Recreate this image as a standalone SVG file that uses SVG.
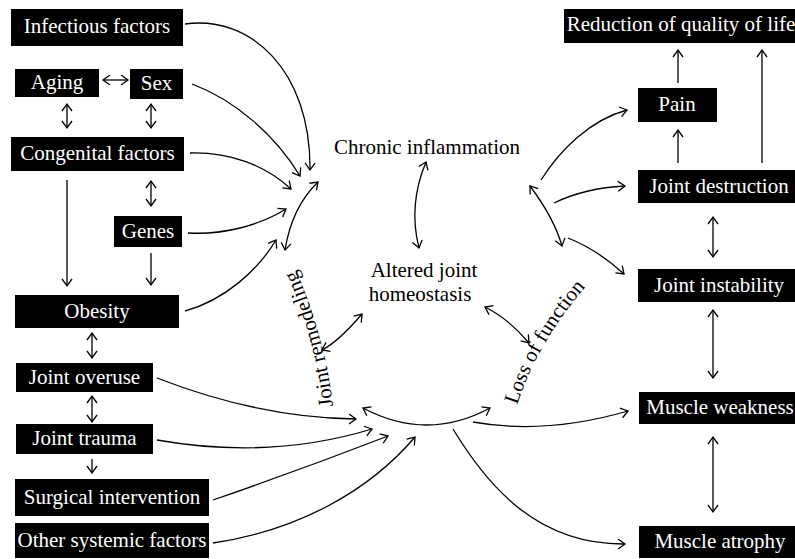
<svg xmlns="http://www.w3.org/2000/svg" width="795" height="559" viewBox="0 0 795 559">
<style>
.box{fill:#000}
.bt{fill:#fff;font-family:"Liberation Serif","Times New Roman",serif;font-size:21px;text-anchor:middle}
.ct{fill:#000;font-family:"Liberation Serif","Times New Roman",serif;font-size:21px;text-anchor:middle}
.lbl{fill:#000;font-family:"Liberation Serif","Times New Roman",serif;font-size:21px}
.c{fill:none;stroke:#000;stroke-width:1.3}
.e{marker-end:url(#ah)}
.b{marker-start:url(#ah);marker-end:url(#ah)}
</style>
<defs>
<marker id="ah" viewBox="-10 -7 12 14" refX="0" refY="0" markerWidth="12" markerHeight="14" markerUnits="userSpaceOnUse" orient="auto-start-reverse">
<path d="M-7,-5 L0,0 L-7,5" fill="none" stroke="#000" stroke-width="1.3" stroke-linejoin="miter"/>
</marker>
<path id="pRemodel" d="M333,406 Q325,335 291,258"/>
<path id="pLoss" d="M517,405 Q538,340 590,282"/>
</defs>

<g id="infectious"><rect class="box" x="11" y="9" width="172" height="37"/><text class="bt" x="97" y="33">Infectious factors</text></g>
<g id="aging"><rect class="box" x="15" y="69" width="84" height="28"/><text class="bt" x="57" y="89">Aging</text></g>
<g id="sex"><rect class="box" x="130" y="69" width="53" height="30"/><text class="bt" x="156.5" y="90">Sex</text></g>
<g id="congenital"><rect class="box" x="11" y="137" width="173" height="34"/><text class="bt" x="97.5" y="159.5">Congenital factors</text></g>
<g id="genes"><rect class="box" x="114" y="216" width="68" height="31"/><text class="bt" x="148" y="238">Genes</text></g>
<g id="obesity"><rect class="box" x="15" y="295" width="164" height="33"/><text class="bt" x="97" y="317.5">Obesity</text></g>
<g id="overuse"><rect class="box" x="16" y="363" width="137" height="29"/><text class="bt" x="84.5" y="383.5">Joint overuse</text></g>
<g id="trauma"><rect class="box" x="16" y="424" width="137" height="30"/><text class="bt" x="84.5" y="445">Joint trauma</text></g>
<g id="surgical"><rect class="box" x="15" y="479" width="194" height="37"/><text class="bt" x="112" y="503.5">Surgical intervention</text></g>
<g id="systemic"><rect class="box" x="15" y="523" width="194" height="35"/><text class="bt" x="112" y="546.5">Other systemic factors</text></g>

<g id="reduction"><rect class="box" x="564" y="9" width="231" height="34"/><text class="bt" x="681" y="31">Reduction of quality of life</text></g>
<g id="pain"><rect class="box" x="638" y="88" width="79" height="34"/><text class="bt" x="677" y="111">Pain</text></g>
<g id="destruction"><rect class="box" x="638" y="170" width="157" height="33"/><text class="bt" x="719" y="192.5">Joint destruction</text></g>
<g id="instability"><rect class="box" x="638" y="269" width="157" height="33"/><text class="bt" x="719" y="291.5">Joint instability</text></g>
<g id="weakness"><rect class="box" x="639" y="392" width="156" height="32"/><text class="bt" x="720" y="414">Muscle weakness</text></g>
<g id="atrophy"><rect class="box" x="639" y="526" width="156" height="32"/><text class="bt" x="720" y="548">Muscle atrophy</text></g>

<g id="inflammation"><text class="ct" x="427" y="154">Chronic inflammation</text></g>
<g id="homeostasis"><text class="ct" x="424" y="277">Altered joint</text><text class="ct" x="420" y="301">homeostasis</text></g>

<g id="connectors">
<path class="c b" d="M103,80 H128"/>
<path class="c b" d="M67,104 V128"/>
<path class="c b" d="M151,104 V128"/>
<path class="c e" d="M67,180 V286"/>
<path class="c b" d="M151,181 V206"/>
<path class="c e" d="M151,253 V285"/>
<path class="c b" d="M92,333 V358"/>
<path class="c b" d="M92,396 V422"/>
<path class="c e" d="M92,459 V473"/>
<path class="c e" d="M678,163 V130"/>
<path class="c e" d="M678,83 V50"/>
<path class="c e" d="M762,163 V50"/>
<path class="c b" d="M713,217 V257"/>
<path class="c b" d="M713,310 V378"/>
<path class="c b" d="M713,437 V512"/>

<path class="c e" d="M185,24 C250,15 311,70 310,170"/>
<path class="c e" d="M192,84 C235,100 275,135 300,176"/>
<path class="c e" d="M190,153 C230,152 265,165 291,189"/>
<path class="c e" d="M188,233 C225,235 260,225 286,209"/>
<path class="c e" d="M185,311 C225,300 258,270 276,240"/>
<path class="c b" d="M318,182 Q292,207 285,250"/>

<path class="c b" d="M426,162 Q408,205 419,248"/>
<path class="c b" d="M362,314 Q338,342 322,350"/>
<path class="c b" d="M485,307 Q509,319 529,343"/>

<path class="c b" d="M530,186 Q554,218 562,246"/>
<path class="c e" d="M541,180 C560,150 590,120 627,110"/>
<path class="c e" d="M554,203 Q585,188 625,186"/>
<path class="c e" d="M568,238 Q598,250 624,274"/>

<path class="c b" d="M363,408 Q427,442 490,408"/>
<path class="c e" d="M157,378 Q260,418 356,419"/>
<path class="c e" d="M157,440 Q270,460 372,429"/>
<path class="c e" d="M213,500 Q300,470 388,436"/>
<path class="c e" d="M213,543 C300,530 370,490 415,437"/>
<path class="c e" d="M473,422 Q545,435 628,411"/>
<path class="c e" d="M453,429 C490,490 540,545 625,544"/>

<text class="lbl"><textPath href="#pRemodel">Joint remodeling</textPath></text>
<text class="lbl"><textPath href="#pLoss">Loss of function</textPath></text>
</g>
</svg>
